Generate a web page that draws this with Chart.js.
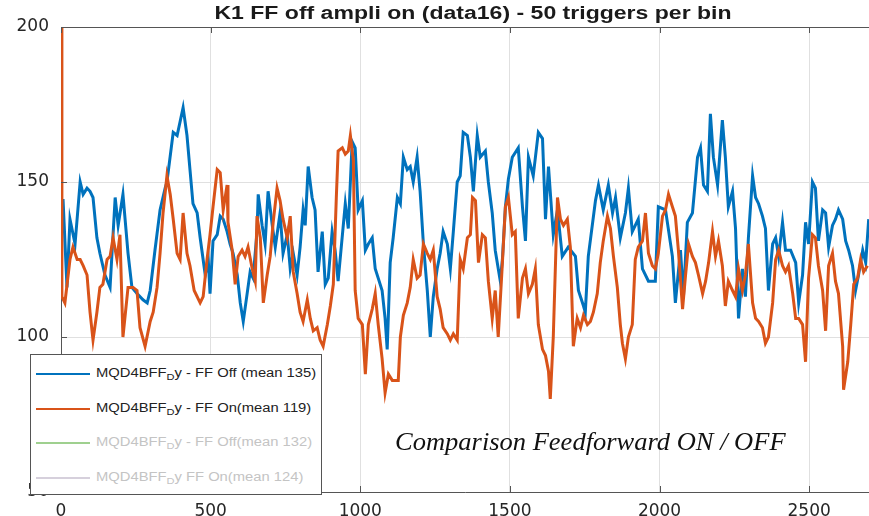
<!DOCTYPE html>
<html>
<head>
<meta charset="utf-8">
<script src="https://cdn.jsdelivr.net/npm/chart.js@4.4.1/dist/chart.umd.min.js"></script>
<style>
  html, body { margin: 0; padding: 0; background: #fff; }
  #wrap { position: relative; width: 869px; height: 516px; overflow: hidden; }
  #title {
    position: absolute; left: 473px; top: 3px; white-space: nowrap;
    transform: translateX(-50%) scaleX(1.28);
    font: bold 18px "Liberation Sans", Arial, sans-serif; color: #1a1a1a;
  }
  #legend {
    position: absolute; left: 30px; top: 354px; width: 290px; height: 139px;
    border: 1px solid #555; background: #fff;
    font: 12px "Liberation Sans", Arial, sans-serif;
  }
  .row { position: absolute; left: 0; height: 20px; width: 100%; }
  .row i { position: absolute; left: 5px; top: 9px; width: 54px; height: 2px; }
  .row span {
    position: absolute; left: 65px; top: 2px; white-space: nowrap;
    transform-origin: 0 50%; transform: scaleX(1.23);
  }
  .row sub { font-size: 9px; vertical-align: -3px; }
  #note {
    position: absolute; left: 395px; top: 428px; white-space: nowrap;
    transform-origin: 0 50%; transform: scaleX(1.06);
    font: italic 25px "Liberation Serif", "Times New Roman", serif; color: #111;
  }
</style>
</head>
<body>
<div id="wrap">
  <canvas id="chart" width="869" height="516"></canvas>
  <div id="title">K1 FF off ampli on (data16) - 50 triggers per bin</div>
  <div id="legend"></div>
  <div id="note">Comparison Feedforward ON / OFF</div>
</div>
<script>
// FF Off (blue) - bin position / value
const offX = [0,7,20,30,47,64,74,87,97,107,120,130,147,164,181,191,207,224,237,254,274,288,298,314,331,348,354,375,388,408,421,431,441,455,465,482,492,498,508,522,532,542,555,565,575,589,599,609,622,632,642,655,659,672,682,692,706,716,732,742,756,766,776,789,799,809,816,826,839,849,859,873,883,893,906,916,926,950,960,973,983,993,1007,1017,1027,1040,1050,1060,1073,1083,1090,1100,1110,1124,1134,1144,1157,1167,1177,1190,1200,1211,1224,1234,1244,1257,1267,1277,1291,1301,1311,1324,1334,1344,1358,1368,1378,1391,1401,1418,1428,1441,1451,1468,1475,1485,1495,1508,1528,1542,1552,1562,1578,1595,1609,1619,1629,1645,1659,1675,1695,1719,1729,1746,1752,1762,1786,1796,1812,1829,1843,1853,1869,1886,1896,1909,1929,1943,1963,1986,1996,2020,2043,2053,2070,2080,2093,2110,2127,2137,2147,2160,2170,2180,2194,2210,2220,2230,2244,2254,2264,2277,2287,2297,2311,2321,2331,2344,2354,2364,2378,2388,2398,2411,2421,2438,2455,2465,2478,2488,2498,2511,2521,2531,2545,2555,2565,2578,2588,2598,2612,2622,2632,2645,2655,2665,2679,2689,2699];
const offY = [144,144,116,138,130,150,146,148,147,145,132,127,120,116,145,136,146,127,116,114,112,111,115,128,141,148,150,166,165,174,165,154,143,140,132,120,125,114,131,133,139,138,134,130,127,120,111,105,114,121,119,134,146,136,130,147,136,129,140,127,133,122,127,120,129,141,136,155,145,141,121,134,117,119,134,128,118,143,135,163,161,141,144,128,130,132,122,119,115,106,96,124,132,145,143,158,154,155,150,158,147,130,115,100,113,122,127,134,130,122,134,150,152,166,165,158,147,165,158,160,150,140,128,118,125,142,151,158,161,142,131,158,152,166,164,138,155,133,141,126,129,126,115,110,108,126,144,149,141,149,140,145,132,140,148,134,138,122,118,118,142,141,126,111,128,113,137,140,158,161,149,147,172,158,149,170,158,142,147,135,106,122,113,132,152,145,143,139,135,115,130,132,126,137,128,128,124,111,120,137,130,150,148,131,141,140,129,136,138,141,138,131,128,123,115,120,128,124,138];

// FF On (orange)
const onX = [0,3,13,30,40,54,64,74,87,97,107,120,130,140,154,164,174,187,197,207,224,241,254,264,281,298,308,321,331,341,354,365,375,388,398,408,421,431,445,465,475,488,498,508,522,532,542,555,558,572,582,592,605,615,625,639,649,655,666,676,689,699,709,722,732,742,756,766,776,789,799,809,823,833,843,856,866,876,890,900,910,920,926,940,950,960,967,977,983,993,1007,1017,1027,1040,1050,1060,1073,1083,1094,1107,1127,1134,1144,1157,1167,1177,1190,1200,1211,1224,1234,1244,1257,1267,1277,1291,1301,1311,1324,1334,1344,1358,1368,1375,1385,1395,1408,1418,1428,1441,1451,1461,1475,1485,1495,1508,1518,1528,1542,1552,1562,1575,1585,1595,1609,1619,1629,1635,1645,1659,1669,1679,1692,1702,1712,1725,1736,1746,1759,1769,1779,1792,1802,1812,1826,1836,1846,1859,1869,1876,1886,1896,1909,1919,1929,1943,1953,1963,1976,1986,1996,2010,2020,2030,2043,2053,2063,2077,2087,2097,2110,2120,2130,2144,2154,2164,2177,2187,2197,2210,2220,2230,2244,2254,2264,2277,2287,2297,2311,2321,2331,2344,2354,2364,2378,2388,2398,2411,2421,2431,2445,2455,2465,2478,2488,2498,2511,2521,2531,2545,2555,2565,2578,2588,2598,2612,2615,2629,2639,2649,2662,2672,2682,2695];
const onY = [250,113,111,125,129,125,125,123,120,108,99,108,116,117,125,126,132,125,133,100,116,116,115,103,97,105,108,116,127,140,152,146,138,127,125,140,127,123,115,111,113,125,133,142,154,153,141,149,137,128,117,126,128,126,129,122,118,139,132,111,120,126,137,148,144,138,132,139,121,114,108,105,112,106,102,103,99,97,104,110,117,145,160,161,159,160,165,157,115,106,104,88,104,109,114,104,93,82,88,86,86,100,107,111,116,125,119,120,130,127,125,128,113,109,103,101,99,101,99,125,122,132,133,145,144,124,133,132,118,106,115,100,124,142,145,133,134,106,119,122,114,117,122,104,96,94,89,80,100,145,138,136,138,129,97,106,103,107,104,105,108,114,124,131,139,135,126,116,104,98,93,100,104,125,129,131,140,127,123,122,127,139,141,146,142,139,128,109,120,130,126,124,120,114,118,124,134,126,131,123,110,118,115,113,122,115,120,130,111,106,105,103,98,100,111,125,128,123,121,123,114,106,106,104,92,119,133,132,123,115,102,123,127,118,114,97,83,92,104,117,119,125,121,123];

const xTicks = [0, 500, 1000, 1500, 2000, 2500];
const yTicks = [50, 100, 150, 200];

// legend entries: the two last runs are hidden in the figure
const legendNames = ['y - FF Off (mean 135)', 'y - FF On(mean 119)', 'y - FF Off(mean 132)', 'y FF On(mean 124)'];
const legendColors = ['#0072BD', '#D95319', '#9fd08f', '#d6d0dc'];
const legendText = ['#222', '#222', '#c4c4c4', '#c4c4c4'];

const pts = (xs, ys) => xs.map((x, i) => ({ x: x, y: ys[i] }));

const axisFont = { family: '"DejaVu Sans", sans-serif', size: 17 };

// small inward ticks + top border like the matlab box
const boxPlugin = {
    id: 'box',
    afterDraw(chart) {
        const { ctx, chartArea: a, scales } = chart;
        ctx.save();
        ctx.strokeStyle = '#555';
        ctx.lineWidth = 1;
        ctx.beginPath();
        ctx.moveTo(a.left, a.top + 0.5);
        ctx.lineTo(a.right, a.top + 0.5);
        xTicks.forEach(v => {
            const px = Math.round(scales.x.getPixelForValue(v)) + 0.5;
            ctx.moveTo(px, a.top); ctx.lineTo(px, a.top + 6);
            ctx.moveTo(px, a.bottom); ctx.lineTo(px, a.bottom - 6);
        });
        yTicks.forEach(v => {
            const py = Math.round(scales.y.getPixelForValue(v)) + 0.5;
            ctx.moveTo(a.left, py); ctx.lineTo(a.left + 6, py);
        });
        ctx.stroke();
        ctx.restore();
    }
};

const chart = new Chart(document.getElementById('chart'), {
    type: 'line',
    data: {
        datasets: [{
            label: 'MQD4BFF_D' + legendNames[0],
            data: pts(offX, offY),
            borderColor: legendColors[0],
            borderWidth: 3,
            order: 1,
        }, {
            label: 'MQD4BFF_D' + legendNames[1],
            data: pts(onX, onY),
            borderColor: legendColors[1],
            borderWidth: 3,
            order: 0,
        }],
    },
    options: {
        responsive: false,
        animation: false,
        layout: { padding: { top: 27, right: 0, left: 0, bottom: 0 } },
        elements: { point: { radius: 0 }, line: { tension: 0 } },
        plugins: { legend: { display: false }, title: { display: false }, tooltip: { enabled: false } },
        scales: {
            x: {
                type: 'linear',
                min: 0,
                max: 2700,
                afterBuildTicks: s => { s.ticks = xTicks.map(v => ({ value: v })); },
                afterFit: s => { s.height = 24; },
                ticks: { color: '#262626', font: axisFont, padding: 9, maxRotation: 0, callback: v => String(v) },
                grid: { color: '#e0e0e0', drawTicks: false },
                border: { color: '#555' },
            },
            y: {
                min: 50,
                max: 200,
                afterBuildTicks: s => { s.ticks = yTicks.map(v => ({ value: v })); },
                afterFit: s => { s.width = 61; },
                ticks: { color: '#262626', font: axisFont, padding: 12, callback: v => String(v) },
                grid: { color: '#e0e0e0', drawTicks: false },
                border: { color: '#555' },
            },
        },
    },
    plugins: [boxPlugin],
});

// build legend box
const leg = document.getElementById('legend');
const rowTop = [9, 44, 78, 113];
legendNames.forEach((name, i) => {
    const r = document.createElement('div');
    r.className = 'row';
    r.style.top = rowTop[i] + 'px';
    r.innerHTML = '<i style="background:' + legendColors[i] + '"></i>' +
        '<span style="color:' + legendText[i] + '">MQD4BFF<sub>D</sub>' + name + '</span>';
    leg.appendChild(r);
});
</script>
</body>
</html>
